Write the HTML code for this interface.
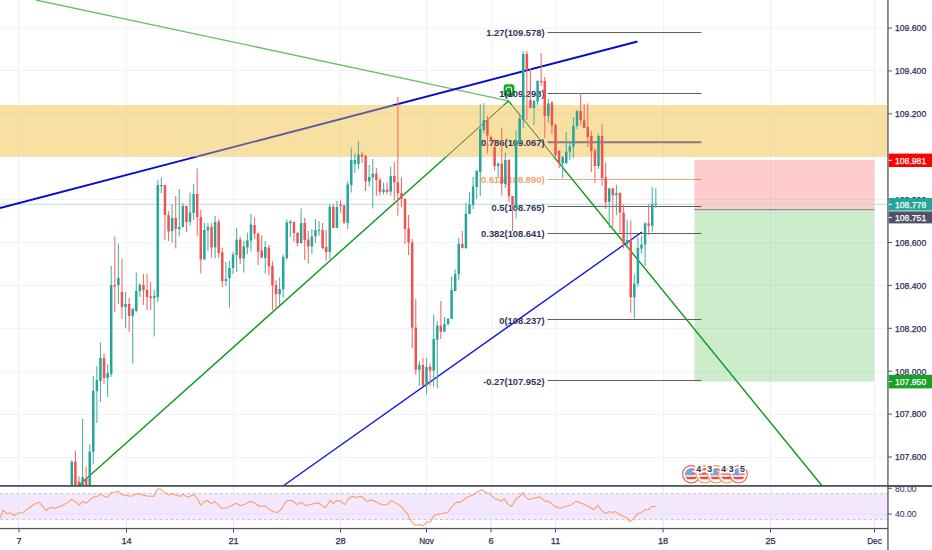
<!DOCTYPE html>
<html><head><meta charset="utf-8"><title>chart</title>
<style>
html,body{margin:0;padding:0;background:#fff;}
body{width:932px;height:550px;overflow:hidden;font-family:"Liberation Sans",sans-serif;}
svg{display:block;font-family:"Liberation Sans",sans-serif;}
</style></head><body>
<svg width="932" height="550" viewBox="0 0 932 550">
<rect width="932" height="550" fill="#ffffff"/>

<g stroke="#eff3f9" stroke-width="1" shape-rendering="crispEdges">
<line x1="18.5" y1="0" x2="18.5" y2="528"/>
<line x1="126.5" y1="0" x2="126.5" y2="528"/>
<line x1="233.5" y1="0" x2="233.5" y2="528"/>
<line x1="340.5" y1="0" x2="340.5" y2="528"/>
<line x1="426.5" y1="0" x2="426.5" y2="528"/>
<line x1="491" y1="0" x2="491" y2="528"/>
<line x1="555.5" y1="0" x2="555.5" y2="528"/>
<line x1="663" y1="0" x2="663" y2="528"/>
<line x1="770.5" y1="0" x2="770.5" y2="528"/>
<line x1="874.5" y1="0" x2="874.5" y2="528"/>
<line x1="0" y1="28.0" x2="887" y2="28.0"/>
<line x1="0" y1="70.9" x2="887" y2="70.9"/>
<line x1="0" y1="113.8" x2="887" y2="113.8"/>
<line x1="0" y1="156.7" x2="887" y2="156.7"/>
<line x1="0" y1="199.6" x2="887" y2="199.6"/>
<line x1="0" y1="242.5" x2="887" y2="242.5"/>
<line x1="0" y1="285.4" x2="887" y2="285.4"/>
<line x1="0" y1="328.3" x2="887" y2="328.3"/>
<line x1="0" y1="371.2" x2="887" y2="371.2"/>
<line x1="0" y1="414.1" x2="887" y2="414.1"/>
<line x1="0" y1="457.0" x2="887" y2="457.0"/>
<line x1="0" y1="514" x2="887" y2="514"/>
</g>
<line x1="547.5" y1="32.5" x2="701.5" y2="32.5" stroke="#606060" stroke-width="1"/>
<line x1="547.5" y1="93.5" x2="701.5" y2="93.5" stroke="#606060" stroke-width="1"/>
<line x1="547.5" y1="142.0" x2="701.5" y2="142.0" stroke="#666" stroke-width="0"/>
<line x1="547.5" y1="179.5" x2="701.5" y2="179.5" stroke="#f5a878" stroke-width="1"/>
<line x1="547.5" y1="206.5" x2="701.5" y2="206.5" stroke="#606060" stroke-width="1"/>
<line x1="547.5" y1="233.5" x2="701.5" y2="233.5" stroke="#606060" stroke-width="1"/>
<line x1="547.5" y1="319.5" x2="701.5" y2="319.5" stroke="#606060" stroke-width="1"/>
<line x1="547.5" y1="380.5" x2="701.5" y2="380.5" stroke="#606060" stroke-width="1"/>
<rect x="694.4" y="159.8" width="180" height="49.6" fill="#ff0000" fill-opacity="0.2"/>
<rect x="694.4" y="209.4" width="180" height="172.2" fill="#00a000" fill-opacity="0.2"/>
<line x1="694.4" y1="209.6" x2="874.4" y2="209.6" stroke="#8a8f95" stroke-width="1.1"/>
<line x1="0" y1="204.3" x2="887" y2="204.3" stroke="#b5ded9" stroke-width="1.1"/>
<defs><clipPath id="outb"><rect x="0" y="0" width="932" height="105"/><rect x="0" y="156.7" width="932" height="400"/></clipPath>
<clipPath id="inb"><rect x="0" y="105" width="887.5" height="51.7"/></clipPath></defs>
<g clip-path="url(#outb)">
<line x1="36" y1="0" x2="508.5" y2="100.8" stroke="#6abf6a" stroke-width="1.3"/>
<line x1="0" y1="208" x2="637.5" y2="41.5" stroke="#0808d0" stroke-width="1.9"/>
<polyline points="79.8,484.6 508.5,101 823,487" fill="none" stroke="#0c9a1c" stroke-width="1.4"/>
<line x1="283" y1="486" x2="642" y2="232" stroke="#1212e0" stroke-width="1.35"/>
</g>
<rect x="0" y="105" width="887.5" height="51.7" fill="#ebaa00" fill-opacity="0.36"/>
<g clip-path="url(#inb)">
<line x1="36" y1="0" x2="508.5" y2="100.8" stroke="#8fae6a" stroke-width="1.0"/>
<line x1="0" y1="208" x2="637.5" y2="41.5" stroke="#5a5c9e" stroke-width="1.9"/>
<polyline points="79.8,484.6 508.5,101 823,487" fill="none" stroke="#3d7238" stroke-width="1.0"/>
<line x1="283" y1="486" x2="642" y2="232" stroke="#5a5c9e" stroke-width="1.2"/>
<line x1="547.5" y1="142.3" x2="701.5" y2="142.3" stroke="#8b7b7e" stroke-width="2"/>
</g>
<rect x="503.7" y="84.2" width="10.7" height="12.2" rx="2.6" fill="#16a520"/>
<rect x="506.3" y="87" width="5.3" height="5.6" rx="2.2" fill="none" stroke="#e9f6ea" stroke-width="1.1"/>
<text x="544.6" y="36.2" text-anchor="end" font-size="9.8" font-weight="bold" fill="#30345a" textLength="58.3" lengthAdjust="spacingAndGlyphs">1.27(109.578)</text>
<text x="544.6" y="97.4" text-anchor="end" font-size="9.8" font-weight="bold" fill="#30345a" textLength="45.3" lengthAdjust="spacingAndGlyphs">1(109.293)</text>
<text x="544.6" y="145.8" text-anchor="end" font-size="9.8" font-weight="bold" fill="#30345a" textLength="63.5" lengthAdjust="spacingAndGlyphs">0.786(109.067)</text>
<text x="544.6" y="182.8" text-anchor="end" font-size="9.8" font-weight="bold" fill="#f5a070" textLength="63.5" lengthAdjust="spacingAndGlyphs">0.618(108.890)</text>
<text x="544.6" y="210.6" text-anchor="end" font-size="9.8" font-weight="bold" fill="#30345a" textLength="53.1" lengthAdjust="spacingAndGlyphs">0.5(108.765)</text>
<text x="544.6" y="237.2" text-anchor="end" font-size="9.8" font-weight="bold" fill="#30345a" textLength="63.5" lengthAdjust="spacingAndGlyphs">0.382(108.641)</text>
<text x="544.6" y="323.9" text-anchor="end" font-size="9.8" font-weight="bold" fill="#30345a" textLength="45.3" lengthAdjust="spacingAndGlyphs">0(108.237)</text>
<text x="544.6" y="385.0" text-anchor="end" font-size="9.8" font-weight="bold" fill="#30345a" textLength="61.4" lengthAdjust="spacingAndGlyphs">-0.27(107.952)</text>
<g>
<line x1="71.80" y1="460.0" x2="71.80" y2="486.0" stroke="#4fb3a8" stroke-width="1.1"/>
<rect x="70.55" y="461.8" width="2.5" height="24.2" fill="#26a69a"/>
<line x1="75.38" y1="450.4" x2="75.38" y2="486.0" stroke="#f16e6b" stroke-width="1.1"/>
<rect x="74.13" y="461.8" width="2.5" height="24.2" fill="#ef5350"/>
<line x1="78.97" y1="476.4" x2="78.97" y2="486.0" stroke="#f16e6b" stroke-width="1.1"/>
<rect x="77.72" y="481.8" width="2.5" height="4.2" fill="#ef5350"/>
<line x1="82.55" y1="418.7" x2="82.55" y2="486.0" stroke="#4fb3a8" stroke-width="1.1"/>
<rect x="81.30" y="477.3" width="2.5" height="8.7" fill="#26a69a"/>
<line x1="86.13" y1="466.4" x2="86.13" y2="486.0" stroke="#f16e6b" stroke-width="1.1"/>
<rect x="84.88" y="478.2" width="2.5" height="7.8" fill="#ef5350"/>
<line x1="89.72" y1="444.5" x2="89.72" y2="486.0" stroke="#4fb3a8" stroke-width="1.1"/>
<rect x="88.47" y="451.5" width="2.5" height="34.5" fill="#26a69a"/>
<line x1="93.30" y1="376.0" x2="93.30" y2="464.5" stroke="#4fb3a8" stroke-width="1.1"/>
<rect x="92.05" y="391.0" width="2.5" height="60.8" fill="#26a69a"/>
<line x1="96.88" y1="366.0" x2="96.88" y2="423.0" stroke="#4fb3a8" stroke-width="1.1"/>
<rect x="95.63" y="380.0" width="2.5" height="11.0" fill="#26a69a"/>
<line x1="100.46" y1="342.4" x2="100.46" y2="402.0" stroke="#4fb3a8" stroke-width="1.1"/>
<rect x="99.21" y="358.0" width="2.5" height="23.0" fill="#26a69a"/>
<line x1="104.05" y1="353.6" x2="104.05" y2="384.0" stroke="#f16e6b" stroke-width="1.1"/>
<rect x="102.80" y="358.0" width="2.5" height="20.0" fill="#ef5350"/>
<line x1="107.63" y1="364.4" x2="107.63" y2="397.0" stroke="#4fb3a8" stroke-width="1.1"/>
<rect x="106.38" y="373.0" width="2.5" height="5.0" fill="#26a69a"/>
<line x1="111.21" y1="266.0" x2="111.21" y2="377.0" stroke="#4fb3a8" stroke-width="1.1"/>
<rect x="109.96" y="285.0" width="2.5" height="89.0" fill="#26a69a"/>
<line x1="114.80" y1="236.4" x2="114.80" y2="312.0" stroke="#f16e6b" stroke-width="1.1"/>
<rect x="113.55" y="285.0" width="2.5" height="1.5" fill="#ef5350"/>
<line x1="118.38" y1="243.6" x2="118.38" y2="304.0" stroke="#4fb3a8" stroke-width="1.1"/>
<rect x="117.13" y="278.0" width="2.5" height="7.0" fill="#26a69a"/>
<line x1="121.96" y1="258.4" x2="121.96" y2="319.0" stroke="#f16e6b" stroke-width="1.1"/>
<rect x="120.71" y="292.0" width="2.5" height="15.0" fill="#ef5350"/>
<line x1="125.55" y1="292.0" x2="125.55" y2="328.0" stroke="#4fb3a8" stroke-width="1.1"/>
<rect x="124.30" y="304.0" width="2.5" height="3.0" fill="#26a69a"/>
<line x1="129.13" y1="298.0" x2="129.13" y2="332.0" stroke="#f16e6b" stroke-width="1.1"/>
<rect x="127.88" y="304.0" width="2.5" height="12.0" fill="#ef5350"/>
<line x1="132.71" y1="308.0" x2="132.71" y2="363.6" stroke="#4fb3a8" stroke-width="1.1"/>
<rect x="131.46" y="309.0" width="2.5" height="7.0" fill="#26a69a"/>
<line x1="136.29" y1="272.4" x2="136.29" y2="312.6" stroke="#4fb3a8" stroke-width="1.1"/>
<rect x="135.04" y="291.0" width="2.5" height="20.0" fill="#26a69a"/>
<line x1="139.88" y1="283.0" x2="139.88" y2="297.0" stroke="#4fb3a8" stroke-width="1.1"/>
<rect x="138.63" y="285.0" width="2.5" height="6.0" fill="#26a69a"/>
<line x1="143.46" y1="274.0" x2="143.46" y2="305.0" stroke="#f16e6b" stroke-width="1.1"/>
<rect x="142.21" y="285.0" width="2.5" height="5.0" fill="#ef5350"/>
<line x1="147.04" y1="274.0" x2="147.04" y2="310.0" stroke="#f16e6b" stroke-width="1.1"/>
<rect x="145.79" y="290.0" width="2.5" height="7.0" fill="#ef5350"/>
<line x1="150.63" y1="282.0" x2="150.63" y2="310.0" stroke="#f16e6b" stroke-width="1.1"/>
<rect x="149.38" y="296.4" width="2.5" height="1.6" fill="#ef5350"/>
<line x1="154.21" y1="290.0" x2="154.21" y2="336.4" stroke="#4fb3a8" stroke-width="1.1"/>
<rect x="152.96" y="296.0" width="2.5" height="2.0" fill="#26a69a"/>
<line x1="157.79" y1="180.0" x2="157.79" y2="302.0" stroke="#4fb3a8" stroke-width="1.1"/>
<rect x="156.54" y="185.0" width="2.5" height="112.0" fill="#26a69a"/>
<line x1="161.38" y1="177.6" x2="161.38" y2="193.0" stroke="#4fb3a8" stroke-width="1.1"/>
<rect x="160.12" y="185.0" width="2.5" height="1.3" fill="#26a69a"/>
<line x1="164.96" y1="185.0" x2="164.96" y2="240.0" stroke="#f16e6b" stroke-width="1.1"/>
<rect x="163.71" y="185.0" width="2.5" height="30.0" fill="#ef5350"/>
<line x1="168.54" y1="211.0" x2="168.54" y2="241.0" stroke="#f16e6b" stroke-width="1.1"/>
<rect x="167.29" y="215.0" width="2.5" height="16.4" fill="#ef5350"/>
<line x1="172.12" y1="204.4" x2="172.12" y2="242.4" stroke="#4fb3a8" stroke-width="1.1"/>
<rect x="170.87" y="218.0" width="2.5" height="13.0" fill="#26a69a"/>
<line x1="175.71" y1="196.0" x2="175.71" y2="248.6" stroke="#f16e6b" stroke-width="1.1"/>
<rect x="174.46" y="218.0" width="2.5" height="11.0" fill="#ef5350"/>
<line x1="179.29" y1="189.0" x2="179.29" y2="236.5" stroke="#4fb3a8" stroke-width="1.1"/>
<rect x="178.04" y="227.0" width="2.5" height="2.0" fill="#26a69a"/>
<line x1="182.87" y1="203.0" x2="182.87" y2="227.0" stroke="#4fb3a8" stroke-width="1.1"/>
<rect x="181.62" y="206.0" width="2.5" height="21.0" fill="#26a69a"/>
<line x1="186.46" y1="205.6" x2="186.46" y2="232.0" stroke="#f16e6b" stroke-width="1.1"/>
<rect x="185.21" y="206.0" width="2.5" height="16.0" fill="#ef5350"/>
<line x1="190.04" y1="192.4" x2="190.04" y2="225.6" stroke="#4fb3a8" stroke-width="1.1"/>
<rect x="188.79" y="212.4" width="2.5" height="9.2" fill="#26a69a"/>
<line x1="193.62" y1="184.0" x2="193.62" y2="220.0" stroke="#4fb3a8" stroke-width="1.1"/>
<rect x="192.37" y="194.0" width="2.5" height="19.0" fill="#26a69a"/>
<line x1="197.20" y1="168.4" x2="197.20" y2="236.0" stroke="#f16e6b" stroke-width="1.1"/>
<rect x="195.95" y="194.0" width="2.5" height="23.0" fill="#ef5350"/>
<line x1="200.79" y1="210.0" x2="200.79" y2="273.6" stroke="#f16e6b" stroke-width="1.1"/>
<rect x="199.54" y="217.0" width="2.5" height="42.4" fill="#ef5350"/>
<line x1="204.37" y1="223.0" x2="204.37" y2="259.4" stroke="#4fb3a8" stroke-width="1.1"/>
<rect x="203.12" y="230.0" width="2.5" height="29.4" fill="#26a69a"/>
<line x1="207.95" y1="223.0" x2="207.95" y2="251.0" stroke="#4fb3a8" stroke-width="1.1"/>
<rect x="206.70" y="227.0" width="2.5" height="3.4" fill="#26a69a"/>
<line x1="211.54" y1="223.0" x2="211.54" y2="258.0" stroke="#f16e6b" stroke-width="1.1"/>
<rect x="210.29" y="227.0" width="2.5" height="20.4" fill="#ef5350"/>
<line x1="215.12" y1="216.0" x2="215.12" y2="258.6" stroke="#4fb3a8" stroke-width="1.1"/>
<rect x="213.87" y="222.0" width="2.5" height="25.4" fill="#26a69a"/>
<line x1="218.70" y1="219.6" x2="218.70" y2="258.0" stroke="#f16e6b" stroke-width="1.1"/>
<rect x="217.45" y="221.6" width="2.5" height="31.4" fill="#ef5350"/>
<line x1="222.29" y1="248.0" x2="222.29" y2="287.0" stroke="#f16e6b" stroke-width="1.1"/>
<rect x="221.04" y="252.4" width="2.5" height="28.6" fill="#ef5350"/>
<line x1="225.87" y1="262.0" x2="225.87" y2="286.0" stroke="#4fb3a8" stroke-width="1.1"/>
<rect x="224.62" y="279.0" width="2.5" height="2.0" fill="#26a69a"/>
<line x1="229.45" y1="261.0" x2="229.45" y2="307.6" stroke="#4fb3a8" stroke-width="1.1"/>
<rect x="228.20" y="268.0" width="2.5" height="10.0" fill="#26a69a"/>
<line x1="233.04" y1="251.6" x2="233.04" y2="274.0" stroke="#4fb3a8" stroke-width="1.1"/>
<rect x="231.79" y="254.4" width="2.5" height="13.6" fill="#26a69a"/>
<line x1="236.62" y1="228.0" x2="236.62" y2="272.0" stroke="#4fb3a8" stroke-width="1.1"/>
<rect x="235.37" y="239.6" width="2.5" height="15.4" fill="#26a69a"/>
<line x1="240.20" y1="237.0" x2="240.20" y2="264.0" stroke="#f16e6b" stroke-width="1.1"/>
<rect x="238.95" y="239.6" width="2.5" height="18.8" fill="#ef5350"/>
<line x1="243.78" y1="241.0" x2="243.78" y2="272.4" stroke="#4fb3a8" stroke-width="1.1"/>
<rect x="242.53" y="246.4" width="2.5" height="12.0" fill="#26a69a"/>
<line x1="247.37" y1="232.4" x2="247.37" y2="254.0" stroke="#4fb3a8" stroke-width="1.1"/>
<rect x="246.12" y="240.4" width="2.5" height="7.0" fill="#26a69a"/>
<line x1="250.95" y1="214.0" x2="250.95" y2="251.6" stroke="#4fb3a8" stroke-width="1.1"/>
<rect x="249.70" y="224.6" width="2.5" height="16.0" fill="#26a69a"/>
<line x1="254.53" y1="217.4" x2="254.53" y2="239.0" stroke="#f16e6b" stroke-width="1.1"/>
<rect x="253.28" y="225.0" width="2.5" height="8.6" fill="#ef5350"/>
<line x1="258.12" y1="232.4" x2="258.12" y2="265.0" stroke="#f16e6b" stroke-width="1.1"/>
<rect x="256.87" y="233.6" width="2.5" height="18.0" fill="#ef5350"/>
<line x1="261.70" y1="235.6" x2="261.70" y2="258.0" stroke="#f16e6b" stroke-width="1.1"/>
<rect x="260.45" y="250.4" width="2.5" height="7.2" fill="#ef5350"/>
<line x1="265.28" y1="241.0" x2="265.28" y2="273.6" stroke="#4fb3a8" stroke-width="1.1"/>
<rect x="264.03" y="247.0" width="2.5" height="11.0" fill="#26a69a"/>
<line x1="268.87" y1="244.4" x2="268.87" y2="275.0" stroke="#f16e6b" stroke-width="1.1"/>
<rect x="267.62" y="247.6" width="2.5" height="18.8" fill="#ef5350"/>
<line x1="272.45" y1="261.0" x2="272.45" y2="310.0" stroke="#f16e6b" stroke-width="1.1"/>
<rect x="271.20" y="266.0" width="2.5" height="19.6" fill="#ef5350"/>
<line x1="276.03" y1="280.0" x2="276.03" y2="309.0" stroke="#f16e6b" stroke-width="1.1"/>
<rect x="274.78" y="285.0" width="2.5" height="9.0" fill="#ef5350"/>
<line x1="279.61" y1="277.6" x2="279.61" y2="305.0" stroke="#4fb3a8" stroke-width="1.1"/>
<rect x="278.36" y="289.0" width="2.5" height="5.0" fill="#26a69a"/>
<line x1="283.20" y1="254.4" x2="283.20" y2="298.0" stroke="#4fb3a8" stroke-width="1.1"/>
<rect x="281.95" y="257.0" width="2.5" height="32.4" fill="#26a69a"/>
<line x1="286.78" y1="219.6" x2="286.78" y2="260.0" stroke="#4fb3a8" stroke-width="1.1"/>
<rect x="285.53" y="222.4" width="2.5" height="35.6" fill="#26a69a"/>
<line x1="290.36" y1="220.0" x2="290.36" y2="237.0" stroke="#4fb3a8" stroke-width="1.1"/>
<rect x="289.11" y="221.6" width="2.5" height="1.4" fill="#26a69a"/>
<line x1="293.95" y1="221.6" x2="293.95" y2="242.0" stroke="#f16e6b" stroke-width="1.1"/>
<rect x="292.70" y="222.0" width="2.5" height="11.0" fill="#ef5350"/>
<line x1="297.53" y1="232.0" x2="297.53" y2="246.4" stroke="#f16e6b" stroke-width="1.1"/>
<rect x="296.28" y="233.0" width="2.5" height="10.0" fill="#ef5350"/>
<line x1="301.11" y1="208.4" x2="301.11" y2="243.6" stroke="#4fb3a8" stroke-width="1.1"/>
<rect x="299.86" y="223.0" width="2.5" height="20.0" fill="#26a69a"/>
<line x1="304.69" y1="218.0" x2="304.69" y2="260.0" stroke="#f16e6b" stroke-width="1.1"/>
<rect x="303.44" y="223.0" width="2.5" height="17.0" fill="#ef5350"/>
<line x1="308.28" y1="231.0" x2="308.28" y2="263.6" stroke="#f16e6b" stroke-width="1.1"/>
<rect x="307.03" y="239.6" width="2.5" height="6.8" fill="#ef5350"/>
<line x1="311.86" y1="229.0" x2="311.86" y2="254.0" stroke="#4fb3a8" stroke-width="1.1"/>
<rect x="310.61" y="236.4" width="2.5" height="10.0" fill="#26a69a"/>
<line x1="315.44" y1="219.0" x2="315.44" y2="243.0" stroke="#4fb3a8" stroke-width="1.1"/>
<rect x="314.19" y="230.0" width="2.5" height="6.4" fill="#26a69a"/>
<line x1="319.03" y1="221.0" x2="319.03" y2="236.0" stroke="#4fb3a8" stroke-width="1.1"/>
<rect x="317.78" y="229.6" width="2.5" height="1.2" fill="#26a69a"/>
<line x1="322.61" y1="223.0" x2="322.61" y2="249.0" stroke="#f16e6b" stroke-width="1.1"/>
<rect x="321.36" y="230.0" width="2.5" height="18.0" fill="#ef5350"/>
<line x1="326.19" y1="230.0" x2="326.19" y2="260.4" stroke="#f16e6b" stroke-width="1.1"/>
<rect x="324.94" y="247.0" width="2.5" height="5.0" fill="#ef5350"/>
<line x1="329.78" y1="204.0" x2="329.78" y2="259.0" stroke="#4fb3a8" stroke-width="1.1"/>
<rect x="328.53" y="206.6" width="2.5" height="45.4" fill="#26a69a"/>
<line x1="333.36" y1="204.0" x2="333.36" y2="228.0" stroke="#f16e6b" stroke-width="1.1"/>
<rect x="332.11" y="206.6" width="2.5" height="21.4" fill="#ef5350"/>
<line x1="336.94" y1="201.0" x2="336.94" y2="228.0" stroke="#4fb3a8" stroke-width="1.1"/>
<rect x="335.69" y="207.0" width="2.5" height="21.0" fill="#26a69a"/>
<line x1="340.53" y1="200.4" x2="340.53" y2="213.0" stroke="#f16e6b" stroke-width="1.1"/>
<rect x="339.28" y="204.4" width="2.5" height="1.6" fill="#ef5350"/>
<line x1="344.11" y1="204.4" x2="344.11" y2="224.0" stroke="#f16e6b" stroke-width="1.1"/>
<rect x="342.86" y="205.6" width="2.5" height="16.8" fill="#ef5350"/>
<line x1="347.69" y1="181.0" x2="347.69" y2="229.0" stroke="#4fb3a8" stroke-width="1.1"/>
<rect x="346.44" y="184.4" width="2.5" height="38.6" fill="#26a69a"/>
<line x1="351.27" y1="147.4" x2="351.27" y2="192.4" stroke="#4fb3a8" stroke-width="1.1"/>
<rect x="350.02" y="160.0" width="2.5" height="25.0" fill="#26a69a"/>
<line x1="354.86" y1="153.0" x2="354.86" y2="173.0" stroke="#4fb3a8" stroke-width="1.1"/>
<rect x="353.61" y="160.0" width="2.5" height="4.0" fill="#26a69a"/>
<line x1="358.44" y1="141.0" x2="358.44" y2="169.4" stroke="#4fb3a8" stroke-width="1.1"/>
<rect x="357.19" y="154.6" width="2.5" height="9.4" fill="#26a69a"/>
<line x1="362.02" y1="151.4" x2="362.02" y2="163.0" stroke="#f16e6b" stroke-width="1.1"/>
<rect x="360.77" y="154.4" width="2.5" height="2.2" fill="#ef5350"/>
<line x1="365.61" y1="154.4" x2="365.61" y2="191.0" stroke="#f16e6b" stroke-width="1.1"/>
<rect x="364.36" y="156.0" width="2.5" height="25.4" fill="#ef5350"/>
<line x1="369.19" y1="165.0" x2="369.19" y2="186.6" stroke="#4fb3a8" stroke-width="1.1"/>
<rect x="367.94" y="177.0" width="2.5" height="4.4" fill="#26a69a"/>
<line x1="372.77" y1="159.0" x2="372.77" y2="208.4" stroke="#4fb3a8" stroke-width="1.1"/>
<rect x="371.52" y="173.6" width="2.5" height="3.8" fill="#26a69a"/>
<line x1="376.36" y1="168.0" x2="376.36" y2="196.0" stroke="#f16e6b" stroke-width="1.1"/>
<rect x="375.11" y="173.6" width="2.5" height="6.4" fill="#ef5350"/>
<line x1="379.94" y1="177.4" x2="379.94" y2="195.6" stroke="#f16e6b" stroke-width="1.1"/>
<rect x="378.69" y="180.0" width="2.5" height="11.8" fill="#ef5350"/>
<line x1="383.52" y1="182.6" x2="383.52" y2="194.4" stroke="#4fb3a8" stroke-width="1.1"/>
<rect x="382.27" y="189.4" width="2.5" height="2.6" fill="#26a69a"/>
<line x1="387.10" y1="182.4" x2="387.10" y2="194.4" stroke="#f16e6b" stroke-width="1.1"/>
<rect x="385.85" y="189.6" width="2.5" height="2.4" fill="#ef5350"/>
<line x1="390.69" y1="166.4" x2="390.69" y2="195.6" stroke="#4fb3a8" stroke-width="1.1"/>
<rect x="389.44" y="176.0" width="2.5" height="15.6" fill="#26a69a"/>
<line x1="394.27" y1="162.0" x2="394.27" y2="200.4" stroke="#f16e6b" stroke-width="1.1"/>
<rect x="393.02" y="176.0" width="2.5" height="6.2" fill="#ef5350"/>
<line x1="397.85" y1="97.0" x2="397.85" y2="215.6" stroke="#f16e6b" stroke-width="1.1"/>
<rect x="396.60" y="182.4" width="2.5" height="11.0" fill="#ef5350"/>
<line x1="401.44" y1="177.2" x2="401.44" y2="207.0" stroke="#f16e6b" stroke-width="1.1"/>
<rect x="400.19" y="193.0" width="2.5" height="6.0" fill="#ef5350"/>
<line x1="405.02" y1="198.0" x2="405.02" y2="244.0" stroke="#f16e6b" stroke-width="1.1"/>
<rect x="403.77" y="199.0" width="2.5" height="30.0" fill="#ef5350"/>
<line x1="408.60" y1="215.0" x2="408.60" y2="255.0" stroke="#f16e6b" stroke-width="1.1"/>
<rect x="407.35" y="228.4" width="2.5" height="14.0" fill="#ef5350"/>
<line x1="412.19" y1="239.0" x2="412.19" y2="348.0" stroke="#f16e6b" stroke-width="1.1"/>
<rect x="410.94" y="242.4" width="2.5" height="85.2" fill="#ef5350"/>
<line x1="415.77" y1="299.0" x2="415.77" y2="374.7" stroke="#f16e6b" stroke-width="1.1"/>
<rect x="414.52" y="327.6" width="2.5" height="42.1" fill="#ef5350"/>
<line x1="419.35" y1="361.3" x2="419.35" y2="385.8" stroke="#4fb3a8" stroke-width="1.1"/>
<rect x="418.10" y="364.9" width="2.5" height="4.8" fill="#26a69a"/>
<line x1="422.93" y1="358.0" x2="422.93" y2="385.6" stroke="#f16e6b" stroke-width="1.1"/>
<rect x="421.68" y="364.9" width="2.5" height="20.7" fill="#ef5350"/>
<line x1="426.52" y1="358.0" x2="426.52" y2="394.5" stroke="#4fb3a8" stroke-width="1.1"/>
<rect x="425.27" y="367.0" width="2.5" height="18.6" fill="#26a69a"/>
<line x1="430.10" y1="363.8" x2="430.10" y2="385.8" stroke="#f16e6b" stroke-width="1.1"/>
<rect x="428.85" y="366.7" width="2.5" height="3.8" fill="#ef5350"/>
<line x1="433.68" y1="314.4" x2="433.68" y2="386.7" stroke="#4fb3a8" stroke-width="1.1"/>
<rect x="432.43" y="339.0" width="2.5" height="31.5" fill="#26a69a"/>
<line x1="437.27" y1="321.0" x2="437.27" y2="388.2" stroke="#4fb3a8" stroke-width="1.1"/>
<rect x="436.02" y="325.6" width="2.5" height="14.0" fill="#26a69a"/>
<line x1="440.85" y1="301.0" x2="440.85" y2="339.0" stroke="#f16e6b" stroke-width="1.1"/>
<rect x="439.60" y="325.6" width="2.5" height="6.0" fill="#ef5350"/>
<line x1="444.43" y1="317.0" x2="444.43" y2="332.0" stroke="#4fb3a8" stroke-width="1.1"/>
<rect x="443.18" y="324.0" width="2.5" height="7.6" fill="#26a69a"/>
<line x1="448.02" y1="318.0" x2="448.02" y2="325.0" stroke="#4fb3a8" stroke-width="1.1"/>
<rect x="446.77" y="319.0" width="2.5" height="5.4" fill="#26a69a"/>
<line x1="451.60" y1="276.4" x2="451.60" y2="319.0" stroke="#4fb3a8" stroke-width="1.1"/>
<rect x="450.35" y="290.0" width="2.5" height="29.0" fill="#26a69a"/>
<line x1="455.18" y1="269.6" x2="455.18" y2="291.0" stroke="#4fb3a8" stroke-width="1.1"/>
<rect x="453.93" y="274.0" width="2.5" height="17.0" fill="#26a69a"/>
<line x1="458.76" y1="238.0" x2="458.76" y2="280.4" stroke="#4fb3a8" stroke-width="1.1"/>
<rect x="457.51" y="243.6" width="2.5" height="30.4" fill="#26a69a"/>
<line x1="462.35" y1="231.0" x2="462.35" y2="248.4" stroke="#f16e6b" stroke-width="1.1"/>
<rect x="461.10" y="244.0" width="2.5" height="4.0" fill="#ef5350"/>
<line x1="465.93" y1="203.0" x2="465.93" y2="249.0" stroke="#4fb3a8" stroke-width="1.1"/>
<rect x="464.68" y="213.6" width="2.5" height="34.4" fill="#26a69a"/>
<line x1="469.51" y1="192.0" x2="469.51" y2="214.0" stroke="#4fb3a8" stroke-width="1.1"/>
<rect x="468.26" y="204.4" width="2.5" height="9.6" fill="#26a69a"/>
<line x1="473.10" y1="177.0" x2="473.10" y2="209.0" stroke="#4fb3a8" stroke-width="1.1"/>
<rect x="471.85" y="186.4" width="2.5" height="18.6" fill="#26a69a"/>
<line x1="476.68" y1="170.0" x2="476.68" y2="199.0" stroke="#4fb3a8" stroke-width="1.1"/>
<rect x="475.43" y="171.0" width="2.5" height="16.0" fill="#26a69a"/>
<line x1="480.26" y1="104.0" x2="480.26" y2="196.0" stroke="#4fb3a8" stroke-width="1.1"/>
<rect x="479.01" y="129.0" width="2.5" height="43.0" fill="#26a69a"/>
<line x1="483.85" y1="103.0" x2="483.85" y2="133.0" stroke="#4fb3a8" stroke-width="1.1"/>
<rect x="482.60" y="120.0" width="2.5" height="10.0" fill="#26a69a"/>
<line x1="487.43" y1="116.0" x2="487.43" y2="153.5" stroke="#f16e6b" stroke-width="1.1"/>
<rect x="486.18" y="120.0" width="2.5" height="15.5" fill="#ef5350"/>
<line x1="491.01" y1="136.0" x2="491.01" y2="143.0" stroke="#f16e6b" stroke-width="1.1"/>
<rect x="489.76" y="137.0" width="2.5" height="3.5" fill="#ef5350"/>
<line x1="494.59" y1="139.0" x2="494.59" y2="170.5" stroke="#f16e6b" stroke-width="1.1"/>
<rect x="493.34" y="147.0" width="2.5" height="19.0" fill="#ef5350"/>
<line x1="498.18" y1="162.4" x2="498.18" y2="178.0" stroke="#4fb3a8" stroke-width="1.1"/>
<rect x="496.93" y="163.6" width="2.5" height="2.4" fill="#26a69a"/>
<line x1="501.76" y1="127.6" x2="501.76" y2="195.6" stroke="#f16e6b" stroke-width="1.1"/>
<rect x="500.51" y="163.6" width="2.5" height="20.4" fill="#ef5350"/>
<line x1="505.34" y1="152.4" x2="505.34" y2="188.0" stroke="#4fb3a8" stroke-width="1.1"/>
<rect x="504.09" y="160.0" width="2.5" height="24.0" fill="#26a69a"/>
<line x1="508.93" y1="159.0" x2="508.93" y2="202.0" stroke="#f16e6b" stroke-width="1.1"/>
<rect x="507.68" y="160.0" width="2.5" height="36.0" fill="#ef5350"/>
<line x1="512.51" y1="196.0" x2="512.51" y2="231.0" stroke="#f16e6b" stroke-width="1.1"/>
<rect x="511.26" y="196.0" width="2.5" height="9.0" fill="#ef5350"/>
<line x1="516.09" y1="130.5" x2="516.09" y2="218.4" stroke="#4fb3a8" stroke-width="1.1"/>
<rect x="514.84" y="142.0" width="2.5" height="66.0" fill="#26a69a"/>
<line x1="519.67" y1="115.3" x2="519.67" y2="143.0" stroke="#4fb3a8" stroke-width="1.1"/>
<rect x="518.42" y="118.5" width="2.5" height="24.5" fill="#26a69a"/>
<line x1="523.26" y1="51.0" x2="523.26" y2="128.0" stroke="#4fb3a8" stroke-width="1.1"/>
<rect x="522.01" y="54.0" width="2.5" height="66.0" fill="#26a69a"/>
<line x1="526.84" y1="51.0" x2="526.84" y2="120.0" stroke="#f16e6b" stroke-width="1.1"/>
<rect x="525.59" y="54.0" width="2.5" height="15.6" fill="#ef5350"/>
<line x1="530.42" y1="68.0" x2="530.42" y2="108.0" stroke="#f16e6b" stroke-width="1.1"/>
<rect x="529.17" y="100.0" width="2.5" height="8.0" fill="#ef5350"/>
<line x1="534.01" y1="100.0" x2="534.01" y2="125.0" stroke="#4fb3a8" stroke-width="1.1"/>
<rect x="532.76" y="101.0" width="2.5" height="7.0" fill="#26a69a"/>
<line x1="537.59" y1="80.0" x2="537.59" y2="105.0" stroke="#4fb3a8" stroke-width="1.1"/>
<rect x="536.34" y="81.0" width="2.5" height="20.5" fill="#26a69a"/>
<line x1="541.17" y1="53.0" x2="541.17" y2="86.0" stroke="#f16e6b" stroke-width="1.1"/>
<rect x="539.92" y="81.0" width="2.5" height="1.2" fill="#ef5350"/>
<line x1="544.76" y1="77.0" x2="544.76" y2="138.0" stroke="#f16e6b" stroke-width="1.1"/>
<rect x="543.51" y="81.0" width="2.5" height="35.0" fill="#ef5350"/>
<line x1="548.34" y1="99.0" x2="548.34" y2="122.5" stroke="#4fb3a8" stroke-width="1.1"/>
<rect x="547.09" y="103.5" width="2.5" height="12.5" fill="#26a69a"/>
<line x1="551.92" y1="101.0" x2="551.92" y2="134.0" stroke="#f16e6b" stroke-width="1.1"/>
<rect x="550.67" y="102.6" width="2.5" height="22.9" fill="#ef5350"/>
<line x1="555.50" y1="123.5" x2="555.50" y2="157.0" stroke="#f16e6b" stroke-width="1.1"/>
<rect x="554.25" y="125.0" width="2.5" height="30.0" fill="#ef5350"/>
<line x1="559.09" y1="150.0" x2="559.09" y2="168.0" stroke="#f16e6b" stroke-width="1.1"/>
<rect x="557.84" y="151.0" width="2.5" height="12.6" fill="#ef5350"/>
<line x1="562.67" y1="156.0" x2="562.67" y2="178.0" stroke="#4fb3a8" stroke-width="1.1"/>
<rect x="561.42" y="157.0" width="2.5" height="6.6" fill="#26a69a"/>
<line x1="566.25" y1="132.0" x2="566.25" y2="164.0" stroke="#4fb3a8" stroke-width="1.1"/>
<rect x="565.00" y="151.6" width="2.5" height="11.4" fill="#26a69a"/>
<line x1="569.84" y1="143.0" x2="569.84" y2="160.0" stroke="#4fb3a8" stroke-width="1.1"/>
<rect x="568.59" y="146.4" width="2.5" height="5.2" fill="#26a69a"/>
<line x1="573.42" y1="117.3" x2="573.42" y2="158.0" stroke="#4fb3a8" stroke-width="1.1"/>
<rect x="572.17" y="126.0" width="2.5" height="20.5" fill="#26a69a"/>
<line x1="577.00" y1="110.0" x2="577.00" y2="129.0" stroke="#4fb3a8" stroke-width="1.1"/>
<rect x="575.75" y="111.3" width="2.5" height="14.7" fill="#26a69a"/>
<line x1="580.59" y1="93.0" x2="580.59" y2="125.0" stroke="#f16e6b" stroke-width="1.1"/>
<rect x="579.34" y="111.0" width="2.5" height="9.0" fill="#ef5350"/>
<line x1="584.17" y1="104.0" x2="584.17" y2="128.0" stroke="#f16e6b" stroke-width="1.1"/>
<rect x="582.92" y="120.3" width="2.5" height="7.7" fill="#ef5350"/>
<line x1="587.75" y1="103.4" x2="587.75" y2="147.0" stroke="#f16e6b" stroke-width="1.1"/>
<rect x="586.50" y="127.0" width="2.5" height="10.0" fill="#ef5350"/>
<line x1="591.34" y1="131.0" x2="591.34" y2="172.0" stroke="#f16e6b" stroke-width="1.1"/>
<rect x="590.09" y="136.0" width="2.5" height="15.0" fill="#ef5350"/>
<line x1="594.92" y1="148.0" x2="594.92" y2="183.0" stroke="#f16e6b" stroke-width="1.1"/>
<rect x="593.67" y="150.6" width="2.5" height="15.4" fill="#ef5350"/>
<line x1="598.50" y1="134.0" x2="598.50" y2="169.0" stroke="#4fb3a8" stroke-width="1.1"/>
<rect x="597.25" y="136.0" width="2.5" height="30.0" fill="#26a69a"/>
<line x1="602.08" y1="124.0" x2="602.08" y2="186.0" stroke="#f16e6b" stroke-width="1.1"/>
<rect x="600.83" y="136.0" width="2.5" height="42.0" fill="#ef5350"/>
<line x1="605.67" y1="162.6" x2="605.67" y2="209.0" stroke="#f16e6b" stroke-width="1.1"/>
<rect x="604.42" y="177.4" width="2.5" height="24.5" fill="#ef5350"/>
<line x1="609.25" y1="187.5" x2="609.25" y2="228.0" stroke="#4fb3a8" stroke-width="1.1"/>
<rect x="608.00" y="188.5" width="2.5" height="13.3" fill="#26a69a"/>
<line x1="612.83" y1="187.5" x2="612.83" y2="227.0" stroke="#f16e6b" stroke-width="1.1"/>
<rect x="611.58" y="188.5" width="2.5" height="6.8" fill="#ef5350"/>
<line x1="616.42" y1="184.8" x2="616.42" y2="215.2" stroke="#4fb3a8" stroke-width="1.1"/>
<rect x="615.17" y="193.0" width="2.5" height="2.3" fill="#26a69a"/>
<line x1="620.00" y1="192.3" x2="620.00" y2="233.0" stroke="#f16e6b" stroke-width="1.1"/>
<rect x="618.75" y="193.0" width="2.5" height="19.7" fill="#ef5350"/>
<line x1="623.58" y1="204.6" x2="623.58" y2="248.6" stroke="#f16e6b" stroke-width="1.1"/>
<rect x="622.33" y="212.7" width="2.5" height="31.3" fill="#ef5350"/>
<line x1="627.16" y1="219.8" x2="627.16" y2="248.0" stroke="#4fb3a8" stroke-width="1.1"/>
<rect x="625.91" y="240.0" width="2.5" height="4.0" fill="#26a69a"/>
<line x1="630.75" y1="220.7" x2="630.75" y2="312.7" stroke="#f16e6b" stroke-width="1.1"/>
<rect x="629.50" y="240.7" width="2.5" height="56.5" fill="#ef5350"/>
<line x1="634.33" y1="274.4" x2="634.33" y2="318.8" stroke="#4fb3a8" stroke-width="1.1"/>
<rect x="633.08" y="283.7" width="2.5" height="13.5" fill="#26a69a"/>
<line x1="637.91" y1="237.3" x2="637.91" y2="286.5" stroke="#4fb3a8" stroke-width="1.1"/>
<rect x="636.66" y="248.0" width="2.5" height="35.7" fill="#26a69a"/>
<line x1="641.50" y1="236.0" x2="641.50" y2="253.7" stroke="#4fb3a8" stroke-width="1.1"/>
<rect x="640.25" y="244.5" width="2.5" height="4.0" fill="#26a69a"/>
<line x1="645.08" y1="222.3" x2="645.08" y2="266.0" stroke="#4fb3a8" stroke-width="1.1"/>
<rect x="643.83" y="223.4" width="2.5" height="21.1" fill="#26a69a"/>
<line x1="648.66" y1="204.3" x2="648.66" y2="235.2" stroke="#f16e6b" stroke-width="1.1"/>
<rect x="647.41" y="223.4" width="2.5" height="2.3" fill="#ef5350"/>
<line x1="652.25" y1="187.0" x2="652.25" y2="231.8" stroke="#4fb3a8" stroke-width="1.1"/>
<rect x="651.00" y="204.3" width="2.5" height="21.4" fill="#26a69a"/>
<line x1="655.83" y1="188.2" x2="655.83" y2="208.0" stroke="#4fb3a8" stroke-width="1.1"/>
<rect x="654.58" y="203.8" width="2.5" height="1.2" fill="#26a69a"/>
</g>
<defs>
<clipPath id="fc0"><circle cx="691.3" cy="474.4" r="6.2"/></clipPath>
<clipPath id="fc1"><circle cx="704.8" cy="474.4" r="6.2"/></clipPath>
<clipPath id="fc2"><circle cx="716.2" cy="474.4" r="6.2"/></clipPath>
<clipPath id="fc3"><circle cx="727" cy="474.4" r="6.2"/></clipPath>
<clipPath id="fc4"><circle cx="738.6" cy="474.4" r="6.2"/></clipPath>
</defs>
<circle cx="691.3" cy="474.3" r="8.7" fill="#fff" fill-opacity="0.8" stroke="#f0504e" stroke-width="1.1"/>
<g clip-path="url(#fc0)">
<rect x="684.3" y="467" width="14" height="15" fill="#fff"/>
<path d="M684.3 469.2h14M684.3 473.6h14M684.3 478h14" stroke="#ef4b45" stroke-width="2.3" fill="none"/>
<rect x="684.3" y="467" width="8.2" height="8.4" fill="#7da2e0"/>
</g>
<circle cx="704.8" cy="474.3" r="8.7" fill="#fff" fill-opacity="0.8" stroke="#ff9a4d" stroke-width="1.1"/>
<g clip-path="url(#fc1)">
<rect x="697.8" y="467" width="14" height="15" fill="#fff"/>
<path d="M697.8 469.2h14M697.8 473.6h14M697.8 478h14" stroke="#ef4b45" stroke-width="2.3" fill="none"/>
</g>
<circle cx="716.2" cy="474.3" r="8.7" fill="#fff" fill-opacity="0.8" stroke="#ff8f4d" stroke-width="1.1"/>
<g clip-path="url(#fc2)">
<rect x="709.2" y="467" width="14" height="15" fill="#fff"/>
<path d="M709.2 469.2h14M709.2 473.6h14M709.2 478h14" stroke="#ef4b45" stroke-width="2.3" fill="none"/>
<rect x="709.2" y="467" width="8.2" height="8.4" fill="#7da2e0"/>
</g>
<circle cx="727" cy="474.3" r="8.7" fill="#fff" fill-opacity="0.8" stroke="#ff9a4d" stroke-width="1.1"/>
<g clip-path="url(#fc3)">
<rect x="720" y="467" width="14" height="15" fill="#fff"/>
<path d="M720 469.2h14M720 473.6h14M720 478h14" stroke="#ef4b45" stroke-width="2.3" fill="none"/>
</g>
<circle cx="738.6" cy="474.3" r="8.7" fill="#fff" fill-opacity="0.8" stroke="#f0605a" stroke-width="1.1"/>
<g clip-path="url(#fc4)">
<rect x="731.6" y="467" width="14" height="15" fill="#fff"/>
<path d="M731.6 469.2h14M731.6 473.6h14M731.6 478h14" stroke="#ef4b45" stroke-width="2.3" fill="none"/>
<rect x="731.6" y="467" width="8.2" height="8.4" fill="#7da2e0"/>
</g>
<rect x="695.1999999999999" y="464" width="7.2" height="9.6" fill="#fff" fill-opacity="0.92"/>
<text x="698.8" y="472.4" text-anchor="middle" font-size="8.8" font-weight="bold" fill="#30345a">4</text>
<rect x="706.1" y="464" width="7.2" height="9.6" fill="#fff" fill-opacity="0.92"/>
<text x="709.7" y="472.4" text-anchor="middle" font-size="8.8" font-weight="bold" fill="#30345a">3</text>
<rect x="720.0" y="464" width="7.2" height="9.6" fill="#fff" fill-opacity="0.92"/>
<text x="723.6" y="472.4" text-anchor="middle" font-size="8.8" font-weight="bold" fill="#30345a">4</text>
<rect x="727.5" y="464" width="7.2" height="9.6" fill="#fff" fill-opacity="0.92"/>
<text x="731.1" y="472.4" text-anchor="middle" font-size="8.8" font-weight="bold" fill="#30345a">3</text>
<rect x="738.8" y="464" width="7.2" height="9.6" fill="#fff" fill-opacity="0.92"/>
<text x="742.4" y="472.4" text-anchor="middle" font-size="8.8" font-weight="bold" fill="#30345a">5</text>
<rect x="0" y="486" width="887" height="2" fill="#fff"/>
<rect x="0" y="493.6" width="887" height="25.8" fill="#f3e8fd"/>
<line x1="0" y1="493.6" x2="887" y2="493.6" stroke="#c9c3d4" stroke-width="1" stroke-dasharray="3,2.5"/>
<line x1="0" y1="519.4" x2="887" y2="519.4" stroke="#c9c3d4" stroke-width="1" stroke-dasharray="3,2.5"/>
<line x1="0" y1="513.8" x2="887" y2="513.8" stroke="#e6def3" stroke-width="1"/>
<g stroke="#e9e3f5" stroke-width="1">
<line x1="18.5" y1="487" x2="18.5" y2="528"/>
<line x1="126.5" y1="487" x2="126.5" y2="528"/>
<line x1="233.5" y1="487" x2="233.5" y2="528"/>
<line x1="340.5" y1="487" x2="340.5" y2="528"/>
<line x1="426.5" y1="487" x2="426.5" y2="528"/>
<line x1="491" y1="487" x2="491" y2="528"/>
<line x1="555.5" y1="487" x2="555.5" y2="528"/>
<line x1="663" y1="487" x2="663" y2="528"/>
<line x1="770.5" y1="487" x2="770.5" y2="528"/>
<line x1="874.5" y1="487" x2="874.5" y2="528"/>
</g>
<polyline points="0.0,518.1 3.1,510.3 6.4,513.4 10.3,512.9 14.2,515.5 18.0,512.9 23.2,512.4 30.9,506.5 34.8,503.9 39.1,502.1 46.4,510.3 50.7,507.2 55.4,508.3 61.8,505.7 67.5,502.6 71.6,499.5 76.0,502.1 79.3,505.2 82.9,501.3 86.3,503.1 93.2,496.9 97.3,496.2 101.0,494.4 105.1,496.9 107.6,496.9 111.3,492.3 114.6,492.3 118.5,491.3 122.3,494.9 126.2,495.4 131.3,496.2 137.8,493.6 142.9,494.9 148.1,496.2 154.0,496.2 157.6,489.0 161.0,489.0 164.8,492.8 168.7,494.9 172.0,493.6 176.4,495.4 180.3,496.2 183.4,494.4 186.7,496.9 190.6,496.2 193.7,494.4 197.0,498.0 200.9,505.2 204.7,501.3 207.3,500.5 211.2,503.9 214.3,501.3 222.0,508.3 226.6,507.8 230.0,506.5 236.4,503.1 240.3,505.7 245.5,503.9 250.6,501.3 254.5,503.1 259.6,506.5 264.8,505.7 272.5,511.6 277.6,512.4 281.5,509.0 286.7,500.5 291.8,500.5 297.5,504.7 300.8,502.1 306.0,505.7 312.4,503.9 318.8,503.1 325.3,507.8 330.4,500.0 333.0,503.9 336.9,500.5 340.7,501.3 344.6,504.7 348.5,498.7 352.3,496.2 356.2,497.5 361.3,496.2 366.5,501.3 371.6,500.0 376.8,502.1 381.9,504.7 387.1,504.7 391.0,500.5 396.1,503.1 401.3,506.5 407.7,514.2 411.6,521.9 415.4,525.3 419.3,524.5 423.1,525.8 427.0,521.9 430.9,521.9 433.5,516.0 437.3,514.2 442.5,513.4 447.6,512.4 451.5,507.2 456.6,502.1 460.0,502.6 466.4,497.5 472.9,494.9 478.0,491.8 481.9,489.7 485.8,492.8 489.6,493.6 494.8,498.7 498.6,499.5 501.2,501.3 504.3,498.7 507.6,503.9 511.5,506.5 516.1,498.7 519.7,496.2 522.6,492.8 526.4,498.0 529.5,499.5 534.7,498.0 539.8,496.9 545.0,501.3 548.8,501.3 552.7,504.7 556.6,507.2 561.0,508.3 565.6,506.5 570.7,505.2 575.9,501.3 579.8,502.6 584.9,504.7 590.1,507.2 593.9,509.8 597.8,505.2 601.1,509.8 605.5,513.4 609.4,511.6 613.2,512.4 615.8,511.6 621.0,515.5 624.8,516.8 627.4,518.1 630.0,521.9 633.1,519.3 637.7,513.4 641.6,512.4 644.9,509.8 648.0,509.8 651.9,506.5 655.7,506.5" fill="none" stroke="#ff9b5e" stroke-width="1.05" stroke-linejoin="round"/>
<rect x="0" y="485" width="932" height="1.8" fill="#50545c"/>
<rect x="0" y="527.9" width="888" height="1.3" fill="#50545c"/>
<rect x="887.3" y="0" width="1.3" height="550" fill="#50545c"/>
<line x1="888" y1="28.0" x2="892" y2="28.0" stroke="#50545c" stroke-width="1"/>
<text x="895" y="31.3" font-size="9.2" fill="#2a2e52" stroke="#2a2e52" stroke-width="0.25" textLength="31.2" lengthAdjust="spacingAndGlyphs">109.600</text>
<line x1="888" y1="70.9" x2="892" y2="70.9" stroke="#50545c" stroke-width="1"/>
<text x="895" y="74.2" font-size="9.2" fill="#2a2e52" stroke="#2a2e52" stroke-width="0.25" textLength="31.2" lengthAdjust="spacingAndGlyphs">109.400</text>
<line x1="888" y1="113.8" x2="892" y2="113.8" stroke="#50545c" stroke-width="1"/>
<text x="895" y="117.1" font-size="9.2" fill="#2a2e52" stroke="#2a2e52" stroke-width="0.25" textLength="31.2" lengthAdjust="spacingAndGlyphs">109.200</text>
<line x1="888" y1="199.6" x2="892" y2="199.6" stroke="#50545c" stroke-width="1"/>
<text x="895" y="202.9" font-size="9.2" fill="#2a2e52" stroke="#2a2e52" stroke-width="0.25" textLength="31.2" lengthAdjust="spacingAndGlyphs">108.800</text>
<line x1="888" y1="242.5" x2="892" y2="242.5" stroke="#50545c" stroke-width="1"/>
<text x="895" y="245.8" font-size="9.2" fill="#2a2e52" stroke="#2a2e52" stroke-width="0.25" textLength="31.2" lengthAdjust="spacingAndGlyphs">108.600</text>
<line x1="888" y1="285.4" x2="892" y2="285.4" stroke="#50545c" stroke-width="1"/>
<text x="895" y="288.7" font-size="9.2" fill="#2a2e52" stroke="#2a2e52" stroke-width="0.25" textLength="31.2" lengthAdjust="spacingAndGlyphs">108.400</text>
<line x1="888" y1="328.3" x2="892" y2="328.3" stroke="#50545c" stroke-width="1"/>
<text x="895" y="331.6" font-size="9.2" fill="#2a2e52" stroke="#2a2e52" stroke-width="0.25" textLength="31.2" lengthAdjust="spacingAndGlyphs">108.200</text>
<line x1="888" y1="371.2" x2="892" y2="371.2" stroke="#50545c" stroke-width="1"/>
<text x="895" y="374.5" font-size="9.2" fill="#2a2e52" stroke="#2a2e52" stroke-width="0.25" textLength="31.2" lengthAdjust="spacingAndGlyphs">108.000</text>
<line x1="888" y1="414.1" x2="892" y2="414.1" stroke="#50545c" stroke-width="1"/>
<text x="895" y="417.4" font-size="9.2" fill="#2a2e52" stroke="#2a2e52" stroke-width="0.25" textLength="31.2" lengthAdjust="spacingAndGlyphs">107.800</text>
<line x1="888" y1="457.0" x2="892" y2="457.0" stroke="#50545c" stroke-width="1"/>
<text x="895" y="460.3" font-size="9.2" fill="#2a2e52" stroke="#2a2e52" stroke-width="0.25" textLength="31.2" lengthAdjust="spacingAndGlyphs">107.600</text>
<text x="895" y="491.5" font-size="9.2" fill="#2a2e52" textLength="21.6" lengthAdjust="spacingAndGlyphs">80.00</text>
<rect x="888.8" y="480" width="44" height="5" fill="#fff"/>
<rect x="887" y="485" width="45" height="1.8" fill="#50545c"/>
<line x1="888" y1="514" x2="892" y2="514" stroke="#50545c" stroke-width="1"/>
<text x="895" y="517.3" font-size="9.2" fill="#2a2e52" textLength="21.6" lengthAdjust="spacingAndGlyphs">40.00</text>
<line x1="888" y1="488.3" x2="892" y2="488.3" stroke="#50545c" stroke-width="1"/>
<rect x="888.7" y="153.6" width="43.3" height="13.4" fill="#ff0000"/>
<line x1="888.7" y1="160.3" x2="892" y2="160.3" stroke="#fff" stroke-width="1"/>
<text x="895" y="163.6" font-size="9.2" fill="#fff" stroke="#fff" stroke-width="0.25" textLength="31.2" lengthAdjust="spacingAndGlyphs">108.981</text>
<rect x="888.7" y="198" width="43.3" height="12.6" fill="#26a69a"/>
<line x1="888.7" y1="204.3" x2="892" y2="204.3" stroke="#fff" stroke-width="1"/>
<text x="895" y="207.6" font-size="9.2" fill="#fff" stroke="#fff" stroke-width="0.25" textLength="31.2" lengthAdjust="spacingAndGlyphs">108.778</text>
<rect x="888.7" y="211.4" width="43.3" height="12.0" fill="#4f5168"/>
<line x1="888.7" y1="217.4" x2="892" y2="217.4" stroke="#fff" stroke-width="1"/>
<text x="895" y="220.7" font-size="9.2" fill="#fff" stroke="#fff" stroke-width="0.25" textLength="31.2" lengthAdjust="spacingAndGlyphs">108.751</text>
<rect x="888.7" y="374.8" width="43.3" height="13.6" fill="#17a127"/>
<line x1="888.7" y1="381.6" x2="892" y2="381.6" stroke="#fff" stroke-width="1"/>
<text x="895" y="384.9" font-size="9.2" fill="#fff" stroke="#fff" stroke-width="0.25" textLength="31.2" lengthAdjust="spacingAndGlyphs">107.950</text>
<line x1="19" y1="529" x2="19" y2="532.5" stroke="#50545c" stroke-width="1"/>
<text x="19" y="544" text-anchor="middle" font-size="9.2" fill="#2a2e52" stroke="#2a2e52" stroke-width="0.25">7</text>
<line x1="126.5" y1="529" x2="126.5" y2="532.5" stroke="#50545c" stroke-width="1"/>
<text x="126.5" y="544" text-anchor="middle" font-size="9.2" fill="#2a2e52" stroke="#2a2e52" stroke-width="0.25">14</text>
<line x1="233.5" y1="529" x2="233.5" y2="532.5" stroke="#50545c" stroke-width="1"/>
<text x="233.5" y="544" text-anchor="middle" font-size="9.2" fill="#2a2e52" stroke="#2a2e52" stroke-width="0.25">21</text>
<line x1="340.5" y1="529" x2="340.5" y2="532.5" stroke="#50545c" stroke-width="1"/>
<text x="340.5" y="544" text-anchor="middle" font-size="9.2" fill="#2a2e52" stroke="#2a2e52" stroke-width="0.25">28</text>
<line x1="426.5" y1="529" x2="426.5" y2="532.5" stroke="#50545c" stroke-width="1"/>
<text x="426.5" y="544" text-anchor="middle" font-size="9.2" fill="#2a2e52" stroke="#2a2e52" stroke-width="0.25" textLength="14.6" lengthAdjust="spacingAndGlyphs">Nov</text>
<line x1="491" y1="529" x2="491" y2="532.5" stroke="#50545c" stroke-width="1"/>
<text x="491" y="544" text-anchor="middle" font-size="9.2" fill="#2a2e52" stroke="#2a2e52" stroke-width="0.25">6</text>
<line x1="555.5" y1="529" x2="555.5" y2="532.5" stroke="#50545c" stroke-width="1"/>
<text x="555.5" y="544" text-anchor="middle" font-size="9.2" fill="#2a2e52" stroke="#2a2e52" stroke-width="0.25">11</text>
<line x1="663" y1="529" x2="663" y2="532.5" stroke="#50545c" stroke-width="1"/>
<text x="663" y="544" text-anchor="middle" font-size="9.2" fill="#2a2e52" stroke="#2a2e52" stroke-width="0.25">18</text>
<line x1="770.5" y1="529" x2="770.5" y2="532.5" stroke="#50545c" stroke-width="1"/>
<text x="770.5" y="544" text-anchor="middle" font-size="9.2" fill="#2a2e52" stroke="#2a2e52" stroke-width="0.25">25</text>
<line x1="874.5" y1="529" x2="874.5" y2="532.5" stroke="#50545c" stroke-width="1"/>
<text x="874.5" y="544" text-anchor="middle" font-size="9.2" fill="#2a2e52" stroke="#2a2e52" stroke-width="0.25" textLength="14.6" lengthAdjust="spacingAndGlyphs">Dec</text>
</svg></body></html>
